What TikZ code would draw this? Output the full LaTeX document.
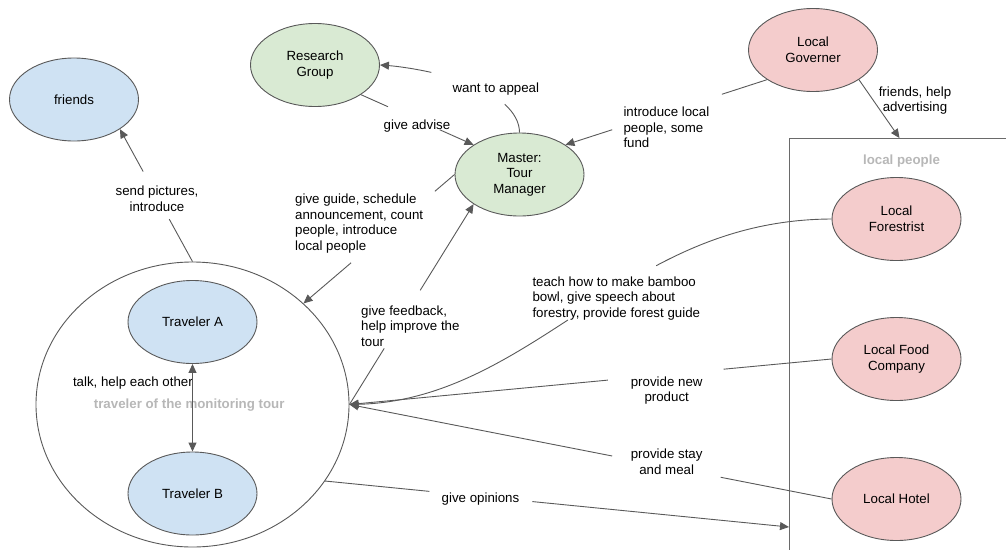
\documentclass[tikz,border=0pt]{standalone}
\usepackage{fontspec}
\setmainfont{Liberation Sans}
\usetikzlibrary{arrows.meta,shapes.geometric}
\definecolor{edgegray}{HTML}{595959}
\definecolor{boxgray}{HTML}{6A6A6A}
\definecolor{fillblue}{HTML}{CFE2F3}
\definecolor{fillgreen}{HTML}{D9EAD3}
\definecolor{fillpink}{HTML}{F4CCCC}
\definecolor{faint}{HTML}{B7B7B7}
\begin{document}
\begin{tikzpicture}[x=1pt,y=-1pt,
  every node/.style={font=\fontsize{13.3}{15.6}\selectfont},
  actor/.style={ellipse, draw=edgegray, line width=0.9pt, minimum width=129pt,
    minimum height=83pt, inner sep=0pt, align=center},
  blueactor/.style={actor, fill=fillblue},
  greenactor/.style={actor, fill=fillgreen},
  pinkactor/.style={actor, fill=fillpink},
  grouptitle/.style={font=\bfseries\fontsize{13.3}{15.6}\selectfont, text=faint, inner sep=0pt},
  lbl/.style={inner sep=0pt, align=center},
  lbll/.style={inner sep=0pt, align=left, anchor=west},
  link/.style={draw=edgegray, line width=0.9pt},
  tipend/.style={link, -{Triangle[length=9pt,width=8pt]}},
  bothends/.style={link, {Triangle[length=9pt,width=8pt]}-{Triangle[length=9pt,width=8pt]}}
]
\useasboundingbox (0,0) rectangle (1006,549);
\clip (0,0) rectangle (1006,549);

% ---- groups ----
\node[draw=boxgray, line width=0.9pt, minimum width=221pt, minimum height=417pt,
  inner sep=0pt] (localbox) at (899.5,347) {};
\node[grouptitle] (lpTitle) at (901.5,161) {local people};
\node[ellipse, draw=edgegray, line width=0.9pt, minimum width=313pt,
  minimum height=285pt, inner sep=0pt] (big) at (192.5,404.5) {};
\node[grouptitle] (tourTitle) at (189.2,405) {traveler of the monitoring tour};

% ---- actors ----
\node[blueactor] (friends) at (74,99.5) {friends};
\node[greenactor] (rg) at (315,65) {Research\\Group};
\node[greenactor] (master) at (519.5,174.5) {Master:\\Tour\\Manager};
\node[pinkactor] (lg) at (813,50) {Local\\Governer};
\node[pinkactor] (forest) at (896.5,219) {Local\\Forestrist};
\node[pinkactor] (food) at (896.5,359) {Local Food\\Company};
\node[pinkactor] (hotel) at (896.5,499) {Local Hotel};
\node[blueactor] (ta) at (192.5,322) {Traveler A};
\node[blueactor] (tb) at (192.5,493.5) {Traveler B};

% ---- edge labels ----
\node[lbl] (lSend) at (157,199) {send pictures,\\introduce};
\node[lbl] (lAppeal) at (495.8,89.3) {want to appeal};
\node[lbl] (lAdvise) at (417,126) {give advise};
\node[lbll] (lIntro) at (623.3,127.5) {introduce local\\people, some\\fund};
\node[lbl] (lFriends) at (915,100.5) {friends, help\\advertising};
\node[lbll] (lGuide) at (295,223.5) {give guide, schedule\\announcement, count\\people, introduce\\local people};
\node[lbll] (lFeedback) at (361,326) {give feedback,\\help improve the\\tour};
\node[lbll] (lTeach) at (532.3,298.4) {teach how to make bamboo\\bowl, give speech about\\forestry, provide forest guide};
\node[lbl] (lProduct) at (666.7,390.7) {provide new\\product};
\node[lbl] (lStay) at (666.7,462) {provide stay\\and meal};
\node[lbl] (lOpinion) at (480.5,499.3) {give opinions};
\node[lbl, anchor=east] (lTalk) at (193,382.7) {talk, help each other};

% ---- connectors (each broken where its label sits) ----
% send pictures, introduce
\path (big.north) -- (friends.south east) coordinate[pos=0.32] (s1) coordinate[pos=0.68] (s2);
\draw[link] (big.north) -- (s1);
\draw[tipend] (s2) -- (friends.south east);

% want to appeal (curved)
\coordinate (wa1) at (504.7,104.3);
\coordinate (wa2) at (431.3,72.4);
\draw[link] (master.north) .. controls (519.5,122.4) and (514.1,112.7) .. (wa1);
\draw[tipend] (wa2) .. controls (415.0,68.75) and (397.5,66.25) .. (rg.east);

% give advise
\path (rg.south east) -- (master.north west) coordinate[pos=0.24] (a1) coordinate[pos=0.70] (a2);
\draw[link] (rg.south east) -- (a1);
\draw[tipend] (a2) -- (master.north west);

% introduce local people, some fund
\path (lg.south west) -- (master.north east) coordinate[pos=0.224] (i1) coordinate[pos=0.768] (i2);
\draw[link] (lg.south west) -- (i1);
\draw[tipend] (i2) -- (master.north east);

% friends, help advertising
\draw[tipend] (lg.south east) -- (localbox.north);

% give guide ...
\path (master.west) -- (big.north east) coordinate[pos=0.13] (g1) coordinate[pos=0.685] (g2);
\draw[link] (master.west) -- (g1);
\draw[tipend] (g2) -- (big.north east);

% give feedback ...
\path (big.east) -- (master.south west) coordinate[pos=0.28] (f1) coordinate[pos=0.57] (f2);
\draw[link] (big.east) -- (f1);
\draw[tipend] (f2) -- (master.south west);

% teach how to make bamboo bowl ... (curved)
\coordinate (tc1) at (656.2,265.7);
\coordinate (tc2) at (567.9,320.0);
\draw[link] (forest.west) .. controls (761.4,219.3) and (706.0,239.2) .. (tc1);
\draw[tipend] (tc2) .. controls (502.9,362.4) and (438.4,402.4) .. (big.east);

% provide new product
\path (food.west) -- (big.east) coordinate[pos=0.224] (p1) coordinate[pos=0.464] (p2);
\draw[link] (food.west) -- (p1);
\draw[tipend] (p2) -- (big.east);

% provide stay and meal
\path (hotel.west) -- (big.east) coordinate[pos=0.23] (h1) coordinate[pos=0.455] (h2);
\draw[link] (hotel.west) -- (h1);
\draw[tipend] (h2) -- (big.east);

% give opinions
\coordinate (opEnd) at (789,527);
\path (big.-30) -- (opEnd) coordinate[pos=0.225] (o1) coordinate[pos=0.447] (o2);
\draw[link] (big.-30) -- (o1);
\draw[tipend] (o2) -- (opEnd);

% talk, help each other
\draw[bothends] (ta.south) -- (tb.north);
\end{tikzpicture}
\end{document}
